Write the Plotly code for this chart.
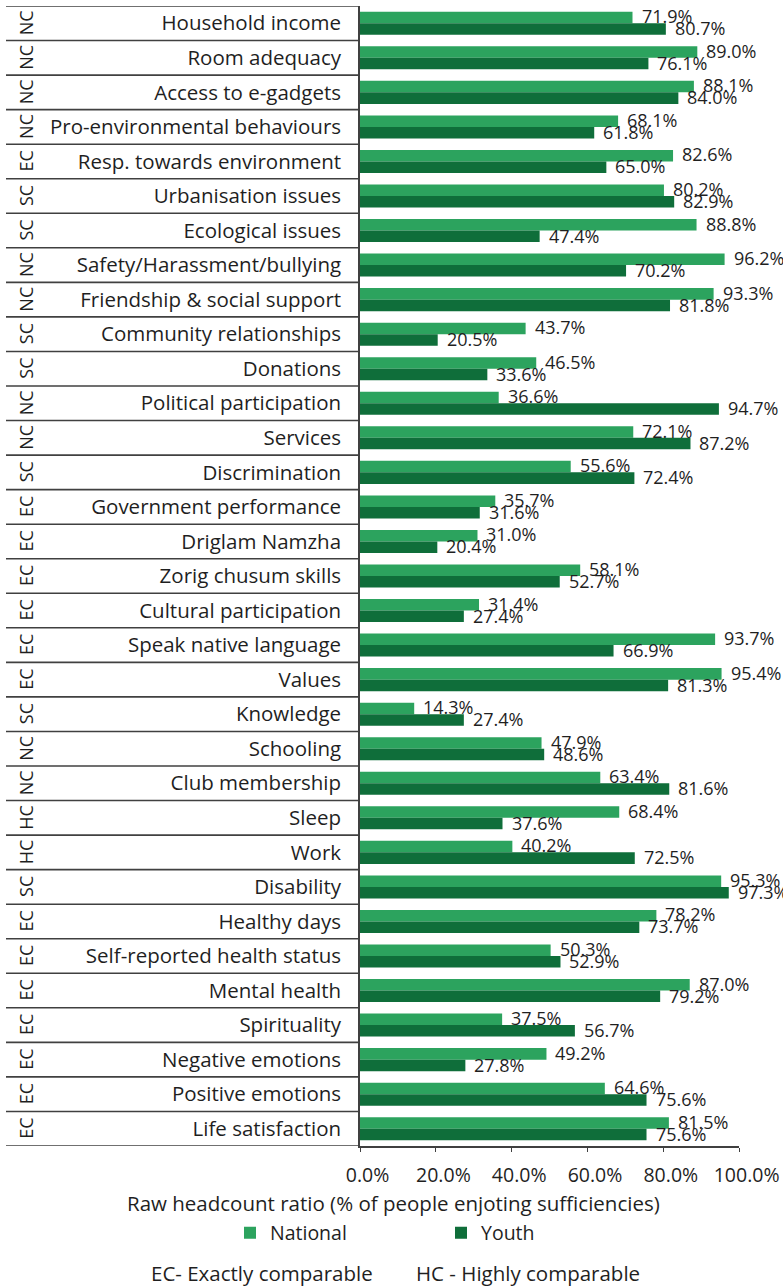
import plotly.graph_objects as go

# Indicator comparability codes, names and raw headcount ratios (%)
codes = ["NC", "NC", "NC", "NC", "EC", "SC", "SC", "NC", "NC", "SC", "SC", "NC", "NC",
         "SC", "EC", "EC", "EC", "EC", "EC", "EC", "SC", "NC", "NC", "HC", "HC", "SC",
         "EC", "EC", "EC", "EC", "EC", "EC", "EC"]
indicators = ["Household income", "Room adequacy", "Access to e-gadgets",
              "Pro-environmental behaviours", "Resp. towards environment",
              "Urbanisation issues", "Ecological issues", "Safety/Harassment/bullying",
              "Friendship & social support", "Community relationships", "Donations",
              "Political participation", "Services", "Discrimination",
              "Government performance", "Driglam Namzha", "Zorig chusum skills",
              "Cultural participation", "Speak native language", "Values", "Knowledge",
              "Schooling", "Club membership", "Sleep", "Work", "Disability",
              "Healthy days", "Self-reported health status", "Mental health",
              "Spirituality", "Negative emotions", "Positive emotions",
              "Life satisfaction"]
national = [71.9, 89.0, 88.1, 68.1, 82.6, 80.2, 88.8, 96.2, 93.3, 43.7, 46.5, 36.6, 72.1,
            55.6, 35.7, 31.0, 58.1, 31.4, 93.7, 95.4, 14.3, 47.9, 63.4, 68.4, 40.2, 95.3,
            78.2, 50.3, 87.0, 37.5, 49.2, 64.6, 81.5]
youth = [80.7, 76.1, 84.0, 61.8, 65.0, 82.9, 47.4, 70.2, 81.8, 20.5, 33.6, 94.7, 87.2,
         72.4, 31.6, 20.4, 52.7, 27.4, 66.9, 81.3, 27.4, 48.6, 81.6, 37.6, 72.5, 97.3,
         73.7, 52.9, 79.2, 56.7, 27.8, 75.6, 75.6]
x_ticks = [0, 20, 40, 60, 80, 100]

W, H = 783, 1287
L, R, T, B = 360, 739, 6, 1146   # plot area in pixels
FONT = "Open Sans"
TXT = "#1f1f1f"
LINE = "#404040"
C_NAT = "#2CA35E"
C_YOU = "#0F6E3A"
NBSP = "\u00a0"


def px_x(px):
    return (px - L) / (R - L)


def px_y(py):
    return (B - py) / (B - T)


fig = go.Figure()
fig.add_trace(go.Bar(name="National", y=indicators, x=national, orientation="h",
                     marker=dict(color=C_NAT, line=dict(width=0))))
fig.add_trace(go.Bar(name="Youth", y=indicators, x=youth, orientation="h",
                     marker=dict(color=C_YOU, line=dict(width=0))))

n = len(indicators)
annotations = []
# value labels at the end of each bar
for name, nv, yv in zip(indicators, national, youth):
    annotations.append(dict(x=nv, y=name, xref="x", yref="y", text=f"{nv:.1f}%",
                            showarrow=False, xanchor="left", yanchor="middle",
                            xshift=7, yshift=7, font=dict(size=18, color=TXT)))
    annotations.append(dict(x=yv, y=name, xref="x", yref="y", text=f"{yv:.1f}%",
                            showarrow=False, xanchor="left", yanchor="middle",
                            xshift=7, yshift=-5, font=dict(size=18, color=TXT)))
# rotated comparability codes in the left column
for name, code in zip(indicators, codes):
    annotations.append(dict(x=px_x(26), y=name, xref="paper", yref="y", text=code,
                            showarrow=False, textangle=-90, xanchor="center",
                            yanchor="middle", font=dict(size=18, color=TXT)))

annotations.append(dict(x=px_x(393), y=px_y(1203), xref="paper", yref="paper",
                        text="Raw headcount ratio (% of people enjoting sufficiencies)",
                        showarrow=False, xanchor="center", yanchor="middle",
                        font=dict(size=20.5, color=TXT)))
annotations.append(dict(x=px_x(149), y=px_y(1273), xref="paper", yref="paper",
                        text="EC- Exactly comparable", showarrow=False,
                        xanchor="left", yanchor="middle", font=dict(size=20.5, color=TXT)))
annotations.append(dict(x=px_x(414), y=px_y(1273), xref="paper", yref="paper",
                        text="HC - Highly comparable", showarrow=False,
                        xanchor="left", yanchor="middle", font=dict(size=20.5, color=TXT)))

# row separators of the label table
shapes = []
for i in range(n + 1):
    shapes.append(dict(type="line", xref="paper", yref="y", x0=px_x(6), x1=0,
                       y0=i - 0.5, y1=i - 0.5, line=dict(color=LINE, width=1.6)))

fig.update_layout(
    width=W, height=H,
    margin=dict(l=L, r=W - R, t=T, b=H - B, autoexpand=False),
    paper_bgcolor="white", plot_bgcolor="white",
    barmode="group", bargap=1 / 3, bargroupgap=0,
    font=dict(family=FONT, color=TXT),
    annotations=annotations, shapes=shapes,
    showlegend=True,
    legend=dict(orientation="h", x=px_x(230), xanchor="left", y=px_y(1233),
                yanchor="middle", font=dict(size=19.5, color=TXT),
                entrywidth=166, traceorder="normal", bgcolor="rgba(0,0,0,0)"),
    xaxis=dict(range=[0, 100], tickvals=x_ticks,
               ticktext=[NBSP * 3 + f"{v:.1f}%" for v in x_ticks],
               tickangle=0, automargin=False,
               showgrid=False, zeroline=False, showline=True, linecolor=LINE,
               linewidth=1.6, ticks="outside", ticklen=4, tickcolor=LINE,
               tickwidth=1.2, tickfont=dict(size=19.5, color=TXT),
               ticklabelstandoff=7, fixedrange=True),
    yaxis=dict(range=[n - 0.5, -0.5], showgrid=False, zeroline=False, showline=True,
               automargin=False,
               linecolor=LINE, linewidth=1.6, ticks="", tickfont=dict(size=20.5, color=TXT),
               ticklabelstandoff=13, fixedrange=True),
)

fig.write_html("out.html")
